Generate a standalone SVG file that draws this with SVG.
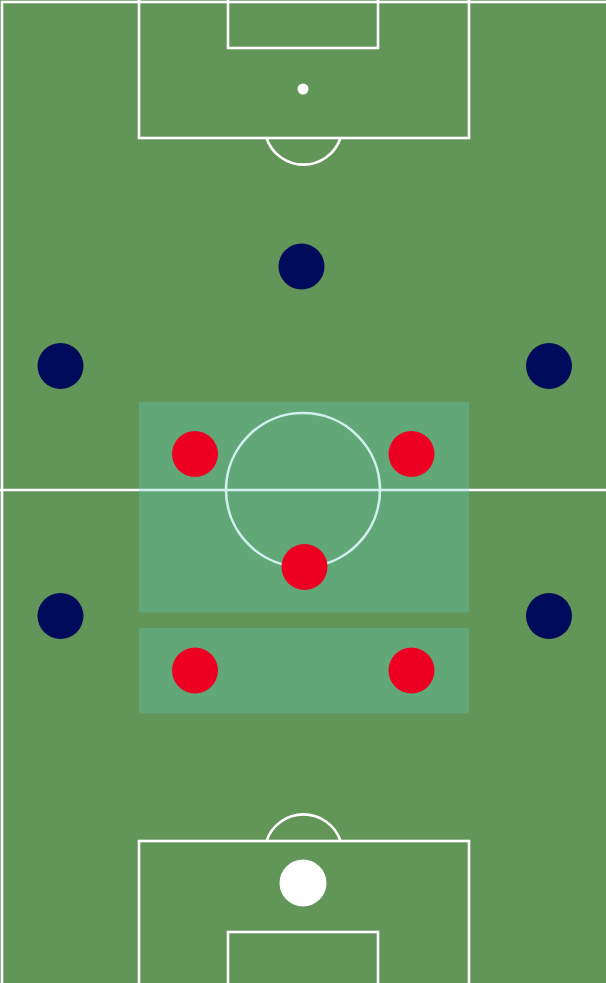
<svg xmlns="http://www.w3.org/2000/svg" width="606" height="983" viewBox="0 0 606 983">
<style>
.line{fill:none;stroke:#ffffff;stroke-width:2.6}
.zone{fill:#65d1c3;fill-opacity:0.3}
.home{fill:#ee0022}
.away{fill:#000a5a}
.gk{fill:#ffffff}
</style>
<g id="pitch">
<rect x="0" y="0" width="606" height="983" fill="#629558"/>
<rect x="2" y="2" width="640" height="1020" class="line"/>
<line x1="0" y1="490" x2="606" y2="490" class="line"/>
<circle cx="303" cy="490" r="77" class="line"/>
<rect x="139" y="-5" width="330" height="143" class="line"/>
<rect x="228" y="-5" width="150" height="53" class="line"/>
<circle cx="303" cy="89" r="5.5" fill="#ffffff"/>
<path d="M266.5,138 A39,39 0 0 0 340.5,138" class="line"/>
<rect x="139" y="841" width="330" height="160" class="line"/>
<rect x="228" y="932" width="150" height="70" class="line"/>
<path d="M266.5,841 A39,39 0 0 1 340.5,841" class="line"/>
</g>
<g id="zones">
<rect id="zone-mid" x="139" y="402" width="330" height="210.5" class="zone"/>
<rect id="zone-back" x="139" y="628" width="330" height="85.5" class="zone"/>
</g>
<g id="connectors"></g>
<g id="away-1"><circle cx="301.5" cy="266.5" r="23" class="away"/></g>
<g id="away-2"><circle cx="60.5" cy="366" r="23" class="away"/></g>
<g id="away-3"><circle cx="549" cy="366" r="23" class="away"/></g>
<g id="away-4"><circle cx="60.5" cy="616" r="23" class="away"/></g>
<g id="away-5"><circle cx="549" cy="616" r="23" class="away"/></g>
<g id="home-1"><circle cx="195" cy="454" r="23" class="home"/></g>
<g id="home-2"><circle cx="411.5" cy="454" r="23" class="home"/></g>
<g id="home-3"><circle cx="304.5" cy="567" r="23" class="home"/></g>
<g id="home-4"><circle cx="195" cy="670.5" r="23" class="home"/></g>
<g id="home-5"><circle cx="411.5" cy="670.5" r="23" class="home"/></g>
<g id="goalkeeper"><circle cx="303" cy="883" r="23.5" class="gk"/></g>
</svg>
